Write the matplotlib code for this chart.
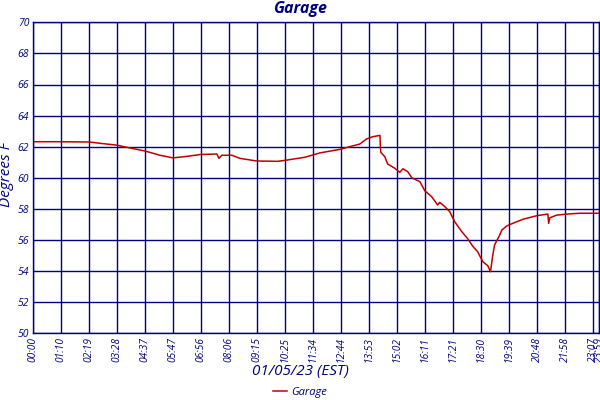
import matplotlib
matplotlib.use("Agg")
import matplotlib.pyplot as plt

# Data: minutes since midnight and temperature (deg F)
minutes = [0, 66, 140, 165, 207, 239, 277, 314, 346, 381, 415, 455, 460, 467, 492, 512,
           554, 606, 623, 673, 710, 760, 784, 809, 826, 841, 859, 860, 861, 871, 878, 896,
           908, 916, 928, 938, 958, 970, 987, 1002, 1007, 1020, 1032, 1044, 1062, 1076,
           1089, 1101, 1114, 1126, 1133, 1138, 1143, 1156, 1161, 1173, 1188, 1213, 1247,
           1275, 1277, 1280, 1297, 1324, 1354, 1401]
temps = [62.32, 62.32, 62.3, 62.22, 62.1, 61.92, 61.72, 61.45, 61.28, 61.38, 61.5, 61.53,
         61.25, 61.45, 61.45, 61.25, 61.08, 61.06, 61.12, 61.32, 61.6, 61.83, 62.0, 62.17,
         62.5, 62.64, 62.73, 62.05, 61.64, 61.36, 60.89, 60.61, 60.35, 60.58, 60.39, 60.0,
         59.75, 59.17, 58.79, 58.25, 58.42, 58.14, 57.82, 57.18, 56.53, 56.1, 55.6, 55.25,
         54.6, 54.35, 53.96, 54.93, 55.68, 56.33, 56.64, 56.9, 57.07, 57.33, 57.56, 57.67,
         57.07, 57.43, 57.6, 57.67, 57.72, 57.72]
tick_labels = ["00:00", "01:10", "02:19", "03:28", "04:37", "05:47", "06:56", "08:06",
               "09:15", "10:25", "11:34", "12:44", "13:53", "15:02", "16:11", "17:21",
               "18:30", "19:39", "20:48", "21:58", "23:07", "23:59"]

navy = "#000080"
red = "#C00000"
step = 69.35
xmax = 1401.8

plt.rcParams['font.family'] = ['Open Sans', 'DejaVu Sans']

fig = plt.figure(figsize=(6, 4), dpi=100)
ax = fig.add_axes([33.3/600, 1-333.3/400, (599-33.3)/600, (333.3-22.3)/400])

ax.plot(minutes, temps, color=red, lw=1.1, label="Garage")

ax.set_xlim(0, xmax)
ax.set_ylim(50, 70)
xt = [k*step for k in range(21)] + [xmax]
ax.set_xticks(xt)
ax.set_xticklabels(tick_labels, rotation=90, fontsize=7.3, style='italic', color=navy)
ax.set_yticks(range(50, 71, 2))
ax.set_yticklabels([str(v) for v in range(50, 71, 2)], fontsize=7.5, style='italic', color=navy)
ax.tick_params(length=0, pad=3)
ax.grid(True, color=navy, lw=1.0)
ax.set_axisbelow(True)
for s in ax.spines.values():
    s.set_color(navy)
    s.set_linewidth(1.0)

fig.text(0.5, 1-9/400, "Garage", ha='center', va='center', fontsize=11.5,
         style='italic', weight='bold', color=navy)
fig.text(0.5, 1-371/400, "01/05/23 (EST)", ha='center', va='center', fontsize=11,
         style='italic', color=navy)
fig.text(7/600, 1-175/400, "Degrees F", ha='center', va='center', rotation=90,
         fontsize=11, style='italic', color=navy)

leg = fig.legend(loc='center', bbox_to_anchor=(0.5, 1-392/400), frameon=False,
                 fontsize=8, handlelength=1.2, handletextpad=0.4)
for t in leg.get_texts():
    t.set_color(navy)
    t.set_style('italic')

fig.savefig("out.png", dpi=100)
